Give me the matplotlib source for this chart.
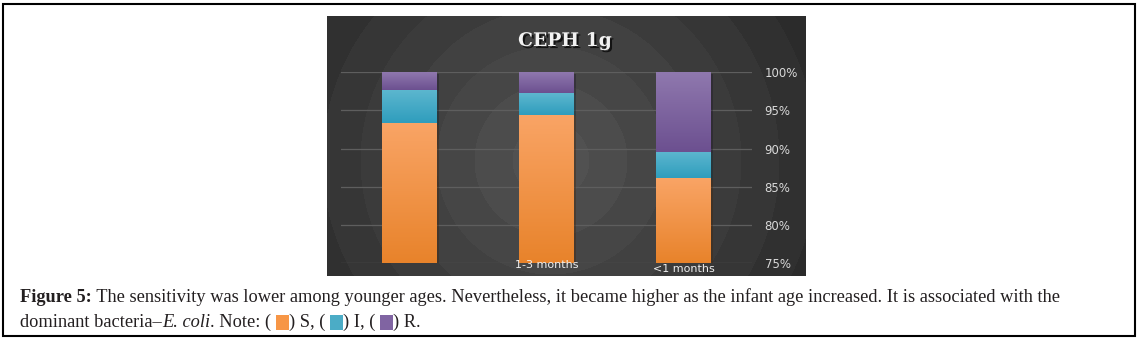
import numpy as np
import matplotlib
matplotlib.use("Agg")
import matplotlib.pyplot as plt
import matplotlib.patheffects as pe
from matplotlib.patches import Rectangle
from matplotlib.colors import LinearSegmentedColormap

# data (stacked shares, %)
ages = ["", "1-3 months", "<1 months"]
S = [93.3, 94.4, 86.1]
I = [4.4, 2.85, 3.5]
R = [2.3, 2.75, 10.4]
ticks = [75, 80, 85, 90, 95, 100]

W, H = 1139, 344
fig = plt.figure(figsize=(W / 100, H / 100), dpi=100)


def px(x0, y0, x1, y1):
    # pixel box (origin top-left) -> figure rect
    return [x0 / W, 1 - y1 / H, (x1 - x0) / W, (y1 - y0) / H]


# dark panel with soft radial rings
bg = fig.add_axes(px(327, 16, 805, 276))
bg.set_axis_off()
yy, xx = np.mgrid[16:276, 327:805]
rad = np.hypot(xx - 550, yy - 160)
shade = 0.32 - 0.15 * np.floor(rad / 38) / 7
shade = np.clip(shade, 0.165, 0.32)
bg.imshow(shade, cmap="gray", vmin=0, vmax=1, aspect="auto", interpolation="nearest")

ax = fig.add_axes(px(341, 72.3, 752, 263))
ax.patch.set_alpha(0)
x = np.arange(len(ages))
ax.set_xlim(-0.5, 2.5)
ylo, yhi = 75, 100


def grad_bars(vals, bottom, c_top, c_bot):
    bars = ax.bar(x, vals, 0.4, bottom=bottom, color=c_bot, zorder=3,
                  path_effects=[pe.SimplePatchShadow(offset=(1.5, -1), alpha=0.4), pe.Normal()])
    cmap = LinearSegmentedColormap.from_list("g", [c_bot, c_top])
    for b in bars:
        x0, y0 = b.get_x(), max(b.get_y(), ylo)
        y1 = b.get_y() + b.get_height()
        im = ax.imshow(np.linspace(0, 1, 64).reshape(-1, 1), cmap=cmap, origin="lower",
                       extent=[x0, x0 + b.get_width(), y0, y1], aspect="auto", zorder=3.5)
        im.set_clip_path(b)
    return bars


grad_bars(S, 0, "#f9a465", "#e8832b")
grad_bars(I, np.array(S), "#5db7cf", "#2f9dbd")
grad_bars(R, np.array(S) + np.array(I), "#8f78ae", "#6c5090")

ax.set_ylim(ylo, yhi)
ax.set_yticks(ticks)
ax.set_yticklabels([f"{t}%" for t in ticks])
ax.yaxis.tick_right()
ax.tick_params(axis="y", length=0, pad=9, labelsize=8.5, labelcolor="#d9d9d9")
ax.set_xticks([])
ax.grid(axis="y", color="#5e5e5e", lw=0.9)
ax.set_axisbelow(True)
for s in ax.spines.values():
    s.set_visible(False)

for i, lab in enumerate(ages):
    ax.annotate(lab, xy=(i, 0), xycoords=("data", "axes fraction"),
                xytext=(0, -2 if i < 2 else -6), textcoords="offset pixels",
                ha="center", va="center", fontsize=8, color="#eeeeee", zorder=6)

fig.text(565 / W, 1 - 41 / H, "CEPH 1g", ha="center", va="center", fontsize=13.5,
         family="DejaVu Serif", weight="bold", color="#f2f2f2",
         path_effects=[pe.withSimplePatchShadow(offset=(1.5, -1.5), shadow_rgbFace="black", alpha=0.7)])

# caption with bold / italic runs and colour keys
cap = dict(family="Liberation Serif", size=13.2, color="#231f20")
rend = fig.canvas.get_renderer()


def tw(s, **kw):
    bar = fig.text(0, 0, "|", **kw)
    t = fig.text(0, 0, s + "|", **kw)
    w = t.get_window_extent(rend).width - bar.get_window_extent(rend).width
    bar.remove()
    t.remove()
    return w


def write_line(x0, ybase, parts):
    xcur = x0
    for part, kw in parts:
        if part == "box":
            fig.patches.append(Rectangle((xcur / W, (H - ybase - 3) / H), 13 / W, 15 / H,
                                         transform=fig.transFigure, color=kw, lw=0))
            xcur += 13
            continue
        k = dict(cap, **kw)
        fig.text(xcur / W, 1 - ybase / H, part, va="baseline", ha="left", **k)
        xcur += tw(part, **k)


write_line(20, 302, [("Figure 5:", dict(weight="bold")),
                     (" The sensitivity was lower among younger ages. Nevertheless, it became higher as the "
                      "infant age increased. It is associated with the", {})])
write_line(20, 327, [("dominant bacteria\u2013", {}), ("E. coli", dict(style="italic")),
                     (". Note: ( ", {}), ("box", "#f79646"), (") S, ( ", {}), ("box", "#4bacc6"),
                     (") I, ( ", {}), ("box", "#8064a2"), (") R.", {})])

fig.patches.append(Rectangle((3 / W, 1 - 336 / H), 1132 / W, 332 / H, transform=fig.transFigure,
                             fill=False, ec="black", lw=1.5))

fig.savefig("out.png", dpi=100)
